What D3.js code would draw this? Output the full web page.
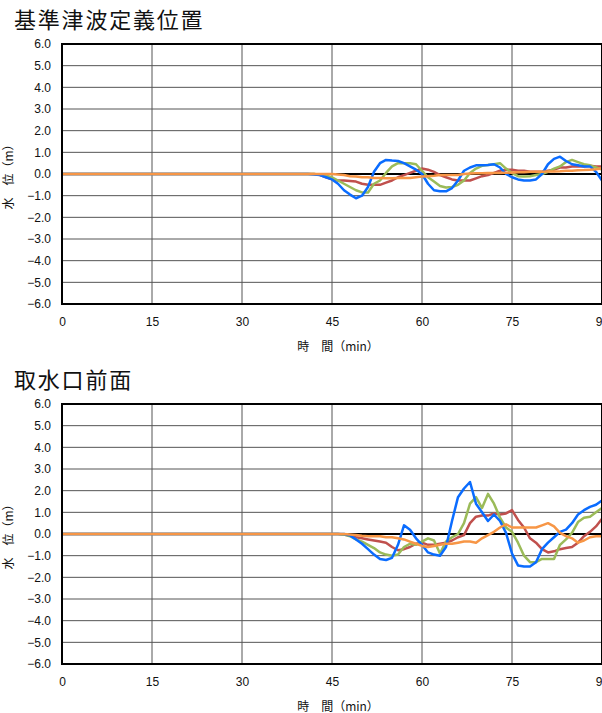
<!DOCTYPE html>
<html>
<head>
<meta charset="utf-8">
<script src="https://cdn.jsdelivr.net/npm/d3@7"></script>
<style>
  body { margin: 0; background: #fff; overflow: hidden; }
  svg { display: block; font-family: "Noto Sans CJK JP", sans-serif; }
</style>
</head>
<body>
<svg id="chart" width="602" height="713"></svg>
<script>
// time grid (min): 0 then every minute from 40 to 90
const minutes = [0].concat(d3.range(40, 91));
const xTicks = [0, 15, 30, 45, 60, 75, 90];
const yTicks = d3.range(-6, 6.01, 1);

// 基準津波定義位置 (values at t = 0, 40..90)
const defBlue = [0, 0, 0, -0.02, -0.05, -0.15, -0.25, -0.45, -0.75, -0.95, -1.12, -1.0, -0.6, 0.1, 0.5, 0.65,
  0.62, 0.6, 0.5, 0.35, 0.2, 0.0, -0.45, -0.75, -0.8, -0.8, -0.65, -0.3, 0.15, 0.3, 0.4,
  0.4, 0.42, 0.45, 0.3, 0.0, -0.15, -0.25, -0.3, -0.3, -0.25, 0.0, 0.45, 0.7, 0.8, 0.6,
  0.45, 0.4, 0.35, 0.35, 0.1, -0.3];
const defGreen = [0, 0, 0, 0, -0.03, -0.08, -0.15, -0.3, -0.45, -0.6, -0.75, -0.85, -0.85, -0.45, -0.3, 0.05,
  0.35, 0.5, 0.5, 0.5, 0.45, 0.15, -0.15, -0.35, -0.55, -0.62, -0.6, -0.5, -0.3, 0.05, 0.25,
  0.38, 0.42, 0.45, 0.5, 0.25, 0.05, -0.1, -0.12, -0.1, -0.05, 0.0, 0.1, 0.25, 0.35, 0.55,
  0.65, 0.55, 0.45, 0.4, 0.3, 0.2];
const defRed = [0, 0, 0, 0, -0.05, -0.15, -0.25, -0.3, -0.3, -0.32, -0.35, -0.45, -0.5, -0.5, -0.5, -0.4,
  -0.3, -0.15, -0.05, 0.05, 0.15, 0.25, 0.2, 0.1, -0.05, -0.15, -0.25, -0.3, -0.3, -0.3, -0.2,
  -0.1, -0.05, 0.05, 0.15, 0.2, 0.2, 0.15, 0.15, 0.1, 0.1, 0.1, 0.15, 0.2, 0.3, 0.3,
  0.35, 0.35, 0.35, 0.38, 0.35, 0.35];
const defOrange = [0, 0, 0, 0, 0, 0, 0, -0.02, -0.05, -0.1, -0.12, -0.15, -0.15, -0.18, -0.18, -0.2,
  -0.2, -0.18, -0.18, -0.18, -0.15, -0.12, -0.1, -0.08, -0.05, -0.05, -0.05, -0.05, 0.0, 0.02, 0.03,
  0.03, 0.05, 0.05, 0.05, 0.06, 0.07, 0.08, 0.08, 0.1, 0.1, 0.1, 0.12, 0.12, 0.13, 0.15,
  0.15, 0.17, 0.18, 0.2, 0.22, 0.25];

// 取水口前面
const intakeBlue = [0, 0, 0, 0, 0, 0, 0, 0, 0, -0.07, -0.25, -0.45, -0.7, -0.95, -1.15, -1.2,
  -1.1, -0.5, 0.4, 0.2, -0.2, -0.5, -0.85, -0.95, -1.0, -0.6, 0.6, 1.7, 2.1, 2.4, 1.4,
  1.0, 0.6, 0.9, 0.6, 0.05, -0.9, -1.45, -1.5, -1.5, -1.3, -0.7, -0.4, -0.15, 0.1, 0.2,
  0.5, 0.9, 1.1, 1.25, 1.35, 1.55];
const intakeGreen = [0, 0, 0, 0, 0, 0, 0, 0, -0.03, -0.1, -0.25, -0.35, -0.5, -0.65, -0.85, -0.95,
  -1.0, -0.95, -0.6, -0.45, -0.5, -0.35, -0.2, -0.3, -0.9, -0.35, -0.15, 0.0, 0.5, 1.4, 1.7,
  1.2, 1.85, 1.4, 0.75, 0.3, 0.1, -0.4, -1.0, -1.3, -1.3, -1.15, -1.15, -1.15, -0.5, -0.25,
  0.05, 0.55, 0.75, 0.8, 1.0, 1.2];
const intakeRed = [0, 0, 0, 0, 0, 0, 0, 0, -0.02, -0.08, -0.15, -0.2, -0.25, -0.3, -0.35, -0.4,
  -0.6, -0.75, -0.7, -0.6, -0.45, -0.4, -0.5, -0.5, -0.45, -0.4, -0.3, -0.15, -0.05, 0.5, 0.8,
  0.85, 0.85, 0.95, 0.9, 0.95, 1.1, 0.65, 0.3, -0.2, -0.4, -0.7, -0.85, -0.8, -0.7, -0.65,
  -0.6, -0.4, -0.1, 0.1, 0.35, 0.7];
const intakeOrange = [0, 0, 0, 0, 0, 0, 0, 0, 0, -0.02, -0.05, -0.08, -0.1, -0.1, -0.1, -0.15,
  -0.15, -0.2, -0.25, -0.35, -0.45, -0.55, -0.6, -0.55, -0.5, -0.45, -0.45, -0.4, -0.35, -0.35, -0.4,
  -0.2, -0.05, 0.1, 0.3, 0.45, 0.3, 0.3, 0.3, 0.3, 0.3, 0.4, 0.5, 0.35, 0.05, -0.1,
  -0.2, -0.4, -0.3, -0.15, -0.1, -0.1];

const seriesColors = ['#c0504d', '#9bbb59', '#0a6cff', '#f79646'];

const panels = [
  {title: '基準津波定義位置', top: 44, series: [defRed, defGreen, defBlue, defOrange]},
  {title: '取水口前面', top: 404, series: [intakeRed, intakeGreen, intakeBlue, intakeOrange]}
];

const svg = d3.select('#chart');
const left = 62, plotW = 540, plotH = 260;

const x = d3.scaleLinear().domain([0, 90]).range([left, left + plotW]);

panels.forEach(p => {
  const y = d3.scaleLinear().domain([-6, 6]).range([p.top + plotH, p.top]);
  const g = svg.append('g');

  //title
  g.append('text')
    .attr('x', 14)
    .attr('y', p.top - 16)
    .attr('font-size', 22)
    .attr('letter-spacing', 1.8)
    .attr('fill', '#111')
    .text(p.title);

  //grid lines
  g.append('g').selectAll('line.h')
    .data(yTicks.filter(d => d !== 0 && d !== -6 && d !== 6))
    .join('line')
    .attr('x1', left).attr('x2', left + plotW)
    .attr('y1', d => y(d)).attr('y2', d => y(d))
    .attr('stroke', '#555').attr('stroke-width', 1);
  g.append('g').selectAll('line.v')
    .data(xTicks.filter(d => d !== 0))
    .join('line')
    .attr('x1', d => x(d)).attr('x2', d => x(d))
    .attr('y1', p.top).attr('y2', p.top + plotH)
    .attr('stroke', '#555').attr('stroke-width', 1);

  //zero line
  g.append('line')
    .attr('x1', left).attr('x2', left + plotW)
    .attr('y1', y(0)).attr('y2', y(0))
    .attr('stroke', '#000').attr('stroke-width', 2);

  //series
  const line = d3.line().x((d, i) => x(minutes[i])).y(d => y(d));
  p.series.forEach((vals, k) => {
    g.append('path')
      .attr('d', line(vals))
      .attr('fill', 'none')
      .attr('stroke', seriesColors[k])
      .attr('stroke-width', 2.5)
      .attr('stroke-linejoin', 'round');
  });

  //frame
  g.append('rect')
    .attr('x', left).attr('y', p.top)
    .attr('width', plotW).attr('height', plotH)
    .attr('fill', 'none').attr('stroke', '#000').attr('stroke-width', 2);

  //axes (labels only)
  const yAxis = g.append('g')
    .attr('transform', `translate(${left},0)`)
    .call(d3.axisLeft(y).tickValues(yTicks).tickFormat(d3.format('.1f')).tickSize(0).tickPadding(11));
  yAxis.select('.domain').remove();
  yAxis.selectAll('text').attr('font-size', 12).attr('fill', '#111')
    .attr('font-family', '"Liberation Sans", sans-serif');

  const xAxis = g.append('g')
    .attr('transform', `translate(0,${p.top + plotH})`)
    .call(d3.axisBottom(x).tickValues(xTicks).tickFormat(d3.format('d')).tickSize(0).tickPadding(13));
  xAxis.select('.domain').remove();
  xAxis.selectAll('text').attr('font-size', 12).attr('fill', '#111')
    .attr('font-family', '"Liberation Sans", sans-serif');

  //axis titles
  g.append('text')
    .attr('x', 338)
    .attr('y', p.top + plotH + 47)
    .attr('text-anchor', 'middle')
    .attr('font-size', 12)
    .attr('fill', '#111')
    .text('時　間（min）');
  g.append('text')
    .attr('transform', `translate(13,${p.top + plotH / 2}) rotate(-90)`)
    .attr('text-anchor', 'middle')
    .attr('font-size', 12)
    .attr('fill', '#111')
    .text('水　位（m）');
});
</script>
</body>
</html>
